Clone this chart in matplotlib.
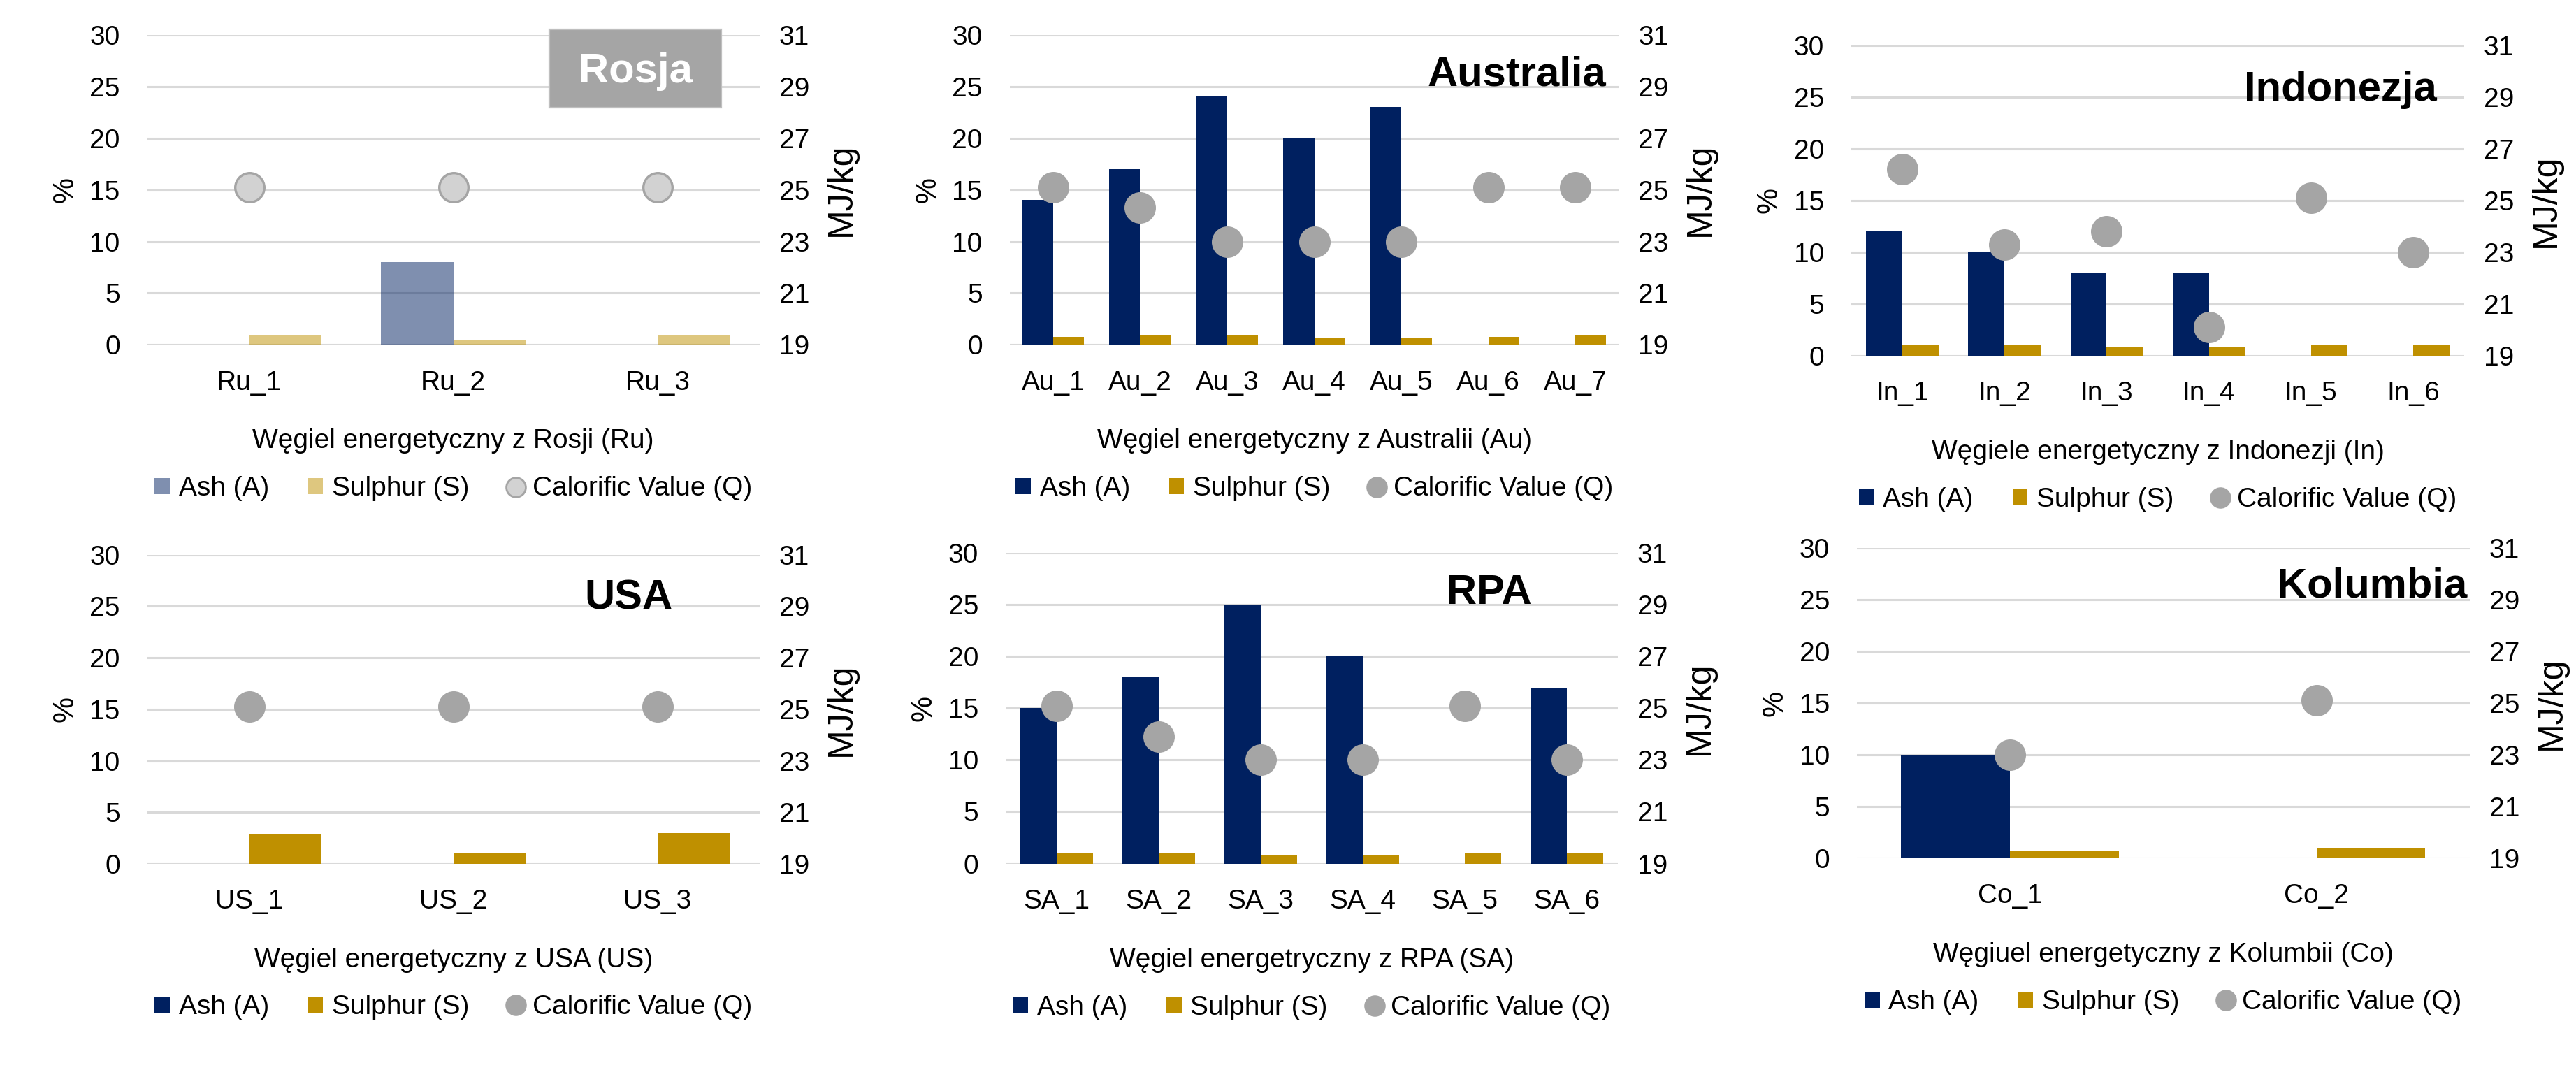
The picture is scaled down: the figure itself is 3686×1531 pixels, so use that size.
import matplotlib.pyplot as plt
from matplotlib.patches import Rectangle
from matplotlib.lines import Line2D

'''
Ash, sulphur and calorific value of steam coal from six countries.
'''
plt.rcParams['font.family'] = ['Liberation Sans', 'DejaVu Sans']

# Rosja
ru_labels = ['Ru_1', 'Ru_2', 'Ru_3']
ru_ash = [0, 8, 0]
ru_sulphur = [1.0, 0.5, 1.0]
ru_cv = [25.1, 25.1, 25.1]

# Australia
au_labels = ['Au_1', 'Au_2', 'Au_3', 'Au_4', 'Au_5', 'Au_6', 'Au_7']
au_ash = [14, 17, 24, 20, 23, 0, 0]
au_sulphur = [0.8, 1.0, 1.0, 0.7, 0.7, 0.8, 1.0]
au_cv = [25.1, 24.3, 23.0, 23.0, 23.0, 25.1, 25.1]

# Indonezja
in_labels = ['In_1', 'In_2', 'In_3', 'In_4', 'In_5', 'In_6']
in_ash = [12, 10, 8, 8, 0, 0]
in_sulphur = [1.0, 1.0, 0.8, 0.8, 1.0, 1.0]
in_cv = [26.2, 23.3, 23.8, 20.1, 25.1, 23.0]

# USA
us_labels = ['US_1', 'US_2', 'US_3']
us_ash = [0, 0, 0]
us_sulphur = [2.9, 1.0, 3.0]
us_cv = [25.1, 25.1, 25.1]

# RPA
sa_labels = ['SA_1', 'SA_2', 'SA_3', 'SA_4', 'SA_5', 'SA_6']
sa_ash = [15, 18, 25, 20, 0, 17]
sa_sulphur = [1.0, 1.0, 0.8, 0.8, 1.0, 1.0]
sa_cv = [25.1, 23.9, 23.0, 23.0, 25.1, 23.0]

# Kolumbia
co_labels = ['Co_1', 'Co_2']
co_ash = [10, 0]
co_sulphur = [0.7, 1.0]
co_cv = [23.0, 25.1]

ASH = '#002060'
SULPHUR = '#BF9000'
CV = '#A5A5A5'
GRID = '#D9D9D9'
FS = 14
W = 0.355

fig = plt.figure(figsize=(18.435, 7.655), dpi=200)


def draw_panel(rect, labels, ash, sulphur, cv, xlabel, faded=False):
    ax = fig.add_axes(rect)
    x = list(range(len(labels)))
    alpha = 0.5 if faded else 1.0
    b1 = ax.bar([i - W for i in x], ash, W, align='edge', color=ASH, alpha=alpha,
                label='Ash (A)')
    b2 = ax.bar(x, sulphur, W, align='edge', color=SULPHUR, alpha=alpha,
                label='Sulphur (S)')
    ax.set_xlim(-0.5, len(labels) - 0.5)
    ax.set_ylim(0, 30)
    ax.set_yticks(range(0, 31, 5))
    ax.set_xticks(x)
    ax.set_xticklabels(labels)
    ax.set_axisbelow(True)
    ax.grid(axis='y', color=GRID, lw=1.1)
    ax.tick_params(axis='y', length=0, pad=14, labelsize=FS)
    ax.tick_params(axis='x', length=0, pad=13, labelsize=FS)
    ax.set_ylabel('%', fontsize=15, va='center')
    ax.yaxis.set_label_coords(-0.134, 0.5)
    ax.set_xlabel(xlabel, fontsize=FS, va='center')
    ax.xaxis.set_label_coords(0.5, -0.311)
    for s in ax.spines.values():
        s.set_visible(False)

    ax2 = ax.twinx()
    ax2.set_ylim(19, 31)
    ax2.set_yticks(range(19, 32, 2))
    ax2.tick_params(axis='y', length=0, pad=10, labelsize=FS)
    ax2.set_ylabel('MJ/kg', fontsize=18, rotation=90, va='center')
    ax2.yaxis.set_label_coords(1.133, 0.5)
    for s in ax2.spines.values():
        s.set_visible(False)
    if faded:
        face, edge = '#D2D2D2', CV
    else:
        face, edge = CV, CV
    ax2.plot(x, cv, 'o', ls='none', ms=15, mfc=face, mec=edge, mew=1.2)

    q = Line2D([], [], ls='none', marker='o', ms=10, mfc=face, mec=edge, mew=1)
    ax2.legend([b1, b2, q], ['Ash (A)', 'Sulphur (S)', 'Calorific Value (Q)'],
               loc='center', bbox_to_anchor=(0.5, -0.464), ncol=3, frameon=False,
               fontsize=FS, handlelength=0.55, handleheight=0.55,
               handletextpad=0.33, columnspacing=1.44)
    return ax


ax1 = draw_panel([0.0571, 0.6777, 0.2377, 0.2898], ru_labels, ru_ash, ru_sulphur, ru_cv,
                 'Węgiel energetyczny z Rosji (Ru)', faded=True)
ax1.add_patch(Rectangle((0.6564, 0.765), 0.2807, 0.253, transform=ax1.transAxes,
                        facecolor='#A5A5A5', edgecolor='#BFBFBF', lw=0.8,
                        clip_on=False, zorder=5))
ax1.text(0.797, 0.846, 'Rosja', transform=ax1.transAxes, ha='center', va='baseline',
         fontsize=21.5, fontweight='bold', color='white', zorder=6)

ax2 = draw_panel([0.3918, 0.6777, 0.2365, 0.2898], au_labels, au_ash, au_sulphur, au_cv,
                 'Węgiel energetyczny z Australii (Au)')
ax2.text(0.9786, 0.837, 'Australia', transform=ax2.transAxes, ha='right', va='baseline',
         fontsize=21.5, fontweight='bold')

ax3 = draw_panel([0.7185, 0.6675, 0.2378, 0.2902], in_labels, in_ash, in_sulphur, in_cv,
                 'Węgiele energetyczny z Indonezji (In)')
ax3.text(0.9555, 0.822, 'Indonezja', transform=ax3.transAxes, ha='right', va='baseline',
         fontsize=21.5, fontweight='bold')

ax4 = draw_panel([0.0571, 0.1927, 0.2377, 0.2889], us_labels, us_ash, us_sulphur, us_cv,
                 'Węgiel energetyczny z USA (US)')
ax4.text(0.786, 0.825, 'USA', transform=ax4.transAxes, ha='center', va='baseline',
         fontsize=21.5, fontweight='bold')

ax5 = draw_panel([0.3903, 0.1930, 0.2376, 0.2903], sa_labels, sa_ash, sa_sulphur, sa_cv,
                 'Węgiel energetryczny z RPA (SA)')
ax5.text(0.7895, 0.836, 'RPA', transform=ax5.transAxes, ha='center', va='baseline',
         fontsize=21.5, fontweight='bold')

ax6 = draw_panel([0.7206, 0.1979, 0.2379, 0.2900], co_labels, co_ash, co_sulphur, co_cv,
                 'Węgiuel energetyczny z Kolumbii (Co)')
ax6.text(0.9954, 0.842, 'Kolumbia', transform=ax6.transAxes, ha='right', va='baseline',
         fontsize=21.5, fontweight='bold')

plt.savefig('out.png', dpi=200)
